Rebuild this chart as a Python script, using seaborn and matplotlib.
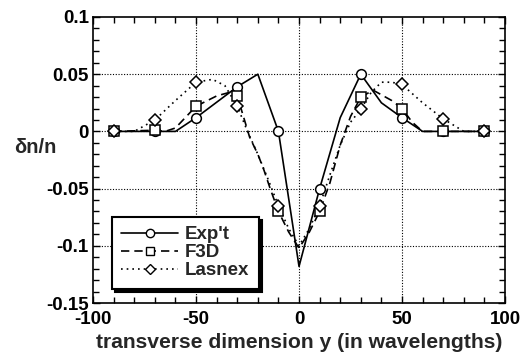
import matplotlib
matplotlib.use("Agg")
import matplotlib.pyplot as plt
import seaborn as sns
import pandas as pd
from matplotlib.lines import Line2D
from matplotlib.ticker import MultipleLocator, FixedLocator, FuncFormatter

# ---- data ----
marker_x = [-90, -70, -50, -30, -10, 10, 30, 50, 70, 90]
expt_marks = [0, 0, 0.012, 0.039, 0, -0.05, 0.05, 0.012, 0, 0]
f3d_marks = [0, 0.001, 0.022, 0.031, -0.07, -0.07, 0.030, 0.020, 0, 0]
lasnex_marks = [0, 0.010, 0.043, 0.022, -0.065, -0.065, 0.0195, 0.041, 0.011, 0]

expt_x = [-90, -70, -60, -50, -30, -20, -10, 0, 10, 20, 30, 40, 50, 60, 70, 90]
expt_y = [0, 0, 0, 0.012, 0.039, 0.05, 0, -0.118, -0.05, 0.012, 0.05, 0.025, 0.012, 0, 0, 0]

f3d_x = [-90, -70, -65, -60, -50, -40, -34, -30, -27, -24, -20, -17, -14, -10, -5, 0,
         5, 10, 15, 20, 25, 30, 36, 45, 50, 55, 60, 70, 90]
f3d_y = [0, 0.001, 0, 0.003, 0.022, 0.031, 0.034, 0.031, 0.013, -0.005, -0.02, -0.034, -0.05,
         -0.07, -0.088, -0.102, -0.088, -0.07, -0.045, -0.012, 0.013, 0.030, 0.036, 0.027,
         0.020, 0.008, 0, 0, 0]

lasnex_x = [-90, -80, -70, -60, -50, -42, -36, -30, -25, -20, -15, -10, -5, 0,
            5, 10, 15, 20, 25, 30, 35, 40, 45, 50, 60, 70, 80, 90]
lasnex_y = [0, 0, 0.010, 0.027, 0.043, 0.0455, 0.040, 0.022, 0.0, -0.02, -0.042, -0.065,
            -0.085, -0.100, -0.085, -0.065, -0.038, -0.012, 0.008, 0.0195, 0.034, 0.043,
            0.043, 0.041, 0.025, 0.011, 0, 0]

series_names = ["Exp't", "F3D", "Lasnex"]
x_ticks = [-100, -50, 0, 50, 100]
y_ticks = [-0.15, -0.1, -0.05, 0, 0.05, 0.1]

# ---- style ----
sns.set_theme(style="ticks")
plt.rcParams["font.family"] = ["Liberation Sans", "DejaVu Sans"]
plt.rcParams["axes.unicode_minus"] = False

fig = plt.figure(figsize=(5.26, 3.54), dpi=100)
ax = fig.add_axes([0.177, 0.144, 0.783, 0.808])

styles = ["-", (0, (5, 3)), (0, (1, 2.4))]
markers = ["o", "s", "D"]
msizes = [7, 7, 6]
lines = [(expt_x, expt_y), (f3d_x, f3d_y), (lasnex_x, lasnex_y)]
marks = [expt_marks, f3d_marks, lasnex_marks]

for (lx, ly), ls in zip(lines, styles):
    sns.lineplot(x=lx, y=ly, ax=ax, color="black", linewidth=1.2, linestyle=ls,
                 sort=False, estimator=None)

for m, ys, ms in zip(markers, marks, msizes):
    ax.plot(marker_x, ys, linestyle="none", marker=m, markersize=ms,
            markerfacecolor="white", markeredgecolor="black", markeredgewidth=1.1,
            zorder=5)

ax.set_xlim(-100, 100)
ax.set_ylim(-0.15, 0.1)
ax.xaxis.set_major_locator(FixedLocator(x_ticks))
ax.yaxis.set_major_locator(FixedLocator(y_ticks))
ax.xaxis.set_minor_locator(MultipleLocator(10))
ax.yaxis.set_minor_locator(MultipleLocator(0.01))

def yfmt(v, pos):
    s = ("%.2f" % v).rstrip("0").rstrip(".")
    if s in ("-0", "0.", ""):
        s = "0"
    return s

ax.yaxis.set_major_formatter(FuncFormatter(yfmt))
ax.xaxis.set_major_formatter(FuncFormatter(lambda v, p: "%d" % v))

ax.tick_params(which="both", direction="in", top=True, right=True, colors="black",
               labelsize=13.5, width=1)
ax.tick_params(which="major", length=5)
ax.tick_params(axis="x", which="major", pad=6)
ax.tick_params(axis="y", which="major", pad=3)
ax.tick_params(which="minor", length=4)
for lab in ax.get_xticklabels() + ax.get_yticklabels():
    lab.set_fontweight("bold")

for sp in ax.spines.values():
    sp.set_color("black")
    sp.set_linewidth(1.2)

for xv in [-50, 0, 50]:
    ax.axvline(xv, color="black", linestyle=(0, (1, 1.5)), linewidth=0.8, zorder=0)
for yv in [-0.1, -0.05, 0, 0.05]:
    ax.axhline(yv, color="black", linestyle=(0, (1, 1.5)), linewidth=0.8, zorder=0)

ax.set_xlabel("transverse dimension y (in wavelengths)", fontsize=15.2,
              fontweight="bold", labelpad=3)
ax.set_ylabel("δn/n", fontsize=14.5, fontweight="bold", rotation=0, va="center")
ax.yaxis.set_label_coords(-0.14, 0.545)

handles = [Line2D([0], [0], color="black", linestyle=ls, linewidth=1.2, marker=m,
                  markersize=ms - 1, markerfacecolor="white", markeredgecolor="black")
           for ls, m, ms in zip(styles, markers, msizes)]
leg = ax.legend(handles, series_names, loc="lower left", bbox_to_anchor=(0.046, 0.05),
                borderaxespad=0, numpoints=1, handlelength=3.0, frameon=True,
                fancybox=False, shadow={"color": "black", "alpha": 1}, borderpad=0.5,
                labelspacing=0.05, handletextpad=0.4,
                prop={"size": 13.5, "weight": "bold"})
leg.get_frame().set_edgecolor("black")
leg.get_frame().set_linewidth(1.5)
leg.get_frame().set_alpha(1)

fig.savefig("out.png", dpi=100)
